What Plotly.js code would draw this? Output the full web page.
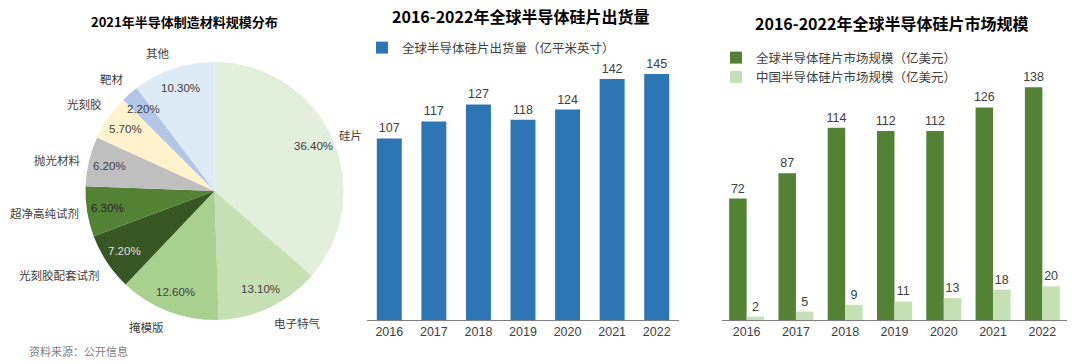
<!DOCTYPE html>
<html>
<head>
<meta charset="utf-8">
<script src="https://cdn.plot.ly/plotly-3.0.1.min.js"></script>
<style>html,body{margin:0;padding:0;background:#fff;}#chart{width:1080px;height:364px;}</style>
</head>
<body>
<div id="chart"></div>
<script>
// ---- data ----
const pieLabels = ['硅片','电子特气','掩模版','光刻胶配套试剂','超净高纯试剂','抛光材料','光刻胶','靶材','其他'];
const pieValues = [36.4, 13.1, 12.6, 7.2, 6.3, 6.2, 5.7, 2.2, 10.3];
const years = ['2016','2017','2018','2019','2020','2021','2022'];
const shipments = [107, 117, 127, 118, 124, 142, 145];
const globalMarket = [72, 87, 114, 112, 112, 126, 138];
const chinaMarket = [2, 5, 9, 11, 13, 18, 20];
const shipName = '全球半导体硅片出货量（亿平米英寸）';
const globalName = '全球半导体硅片市场规模（亿美元）';
const chinaName = '中国半导体硅片市场规模（亿美元）';
const pieTitle = '2021年半导体制造材料规模分布';
const midTitle = '2016-2022年全球半导体硅片出货量';
const rightTitle = '2016-2022年全球半导体硅片市场规模';
const sourceNote = '资料来源：公开信息';

// ---- styles ----
const W = 1080, H = 364;
const pieColors = ['#e2efda','#c6e0b4','#a9d08e','#375623','#548235','#bfbfbf','#fff2cc','#b4c6e7','#ddebf7'];
const pctColors = ['#404040','#404040','#404040','#e0e0e0','#262626','#404040','#404040','#404040','#404040'];
const NUM_FONT = 'Liberation Sans, Arial, Noto Sans CJK SC, sans-serif';
const CJK_FONT = 'Noto Sans CJK SC, sans-serif';
const pieCx = 214.5, pieCy = 191, pieR = 129;

const px = x => x / W;
const py = y => 1 - y / H;

const traces = [];
traces.push({
  type: 'pie', labels: pieLabels, values: pieValues, sort: false,
  direction: 'clockwise', rotation: 0, textinfo: 'none', hoverinfo: 'skip',
  showlegend: false,
  marker: {colors: pieColors, line: {width: 0}},
  domain: {x: [px(pieCx - pieR), px(pieCx + pieR)], y: [py(pieCy + pieR), py(pieCy - pieR)]}
});
traces.push({
  type: 'bar', x: years, y: shipments, name: shipName, xaxis: 'x', yaxis: 'y',
  marker: {color: '#2e75b6'}, width: 0.56, offset: -0.28,
  text: shipments.map(String), textposition: 'outside', constraintext: 'none',
  textfont: {family: NUM_FONT, size: 12.5, color: '#404040'},
  cliponaxis: false, hoverinfo: 'skip', legend: 'legend'
});
traces.push({
  type: 'bar', x: years, y: globalMarket, name: globalName, xaxis: 'x2', yaxis: 'y2',
  marker: {color: '#548235'},
  text: globalMarket.map(String), textposition: 'outside', constraintext: 'none',
  textfont: {family: NUM_FONT, size: 12.5, color: '#404040'},
  cliponaxis: false, hoverinfo: 'skip', legend: 'legend2'
});
traces.push({
  type: 'bar', x: years, y: chinaMarket, name: chinaName, xaxis: 'x2', yaxis: 'y2',
  marker: {color: '#c5e0b4'},
  text: chinaMarket.map(String), textposition: 'outside', constraintext: 'none',
  textfont: {family: NUM_FONT, size: 12.5, color: '#404040'},
  cliponaxis: false, hoverinfo: 'skip', legend: 'legend2'
});

// pie annotations computed from data
const annotations = [];
const total = pieValues.reduce((a, b) => a + b, 0);
let cum = 0;
pieValues.forEach((v, i) => {
  const mid = (cum + v / 2) / total * 2 * Math.PI;
  cum += v;
  const s = Math.sin(mid), c = Math.cos(mid);
  // percentage inside
  const rIn = pieR * 0.84;
  annotations.push({
    xref: 'paper', yref: 'paper', x: px(pieCx + s * rIn), y: py(pieCy - c * rIn),
    text: v.toFixed(2) + '%', showarrow: false, xanchor: 'center', yanchor: 'middle',
    font: {family: NUM_FONT, size: 11.5, color: pctColors[i]}
  });
  // name outside
  const rOut = pieR + 6;
  annotations.push({
    xref: 'paper', yref: 'paper', x: px(pieCx + s * rOut), y: py(pieCy - c * rOut),
    text: pieLabels[i], showarrow: false,
    xanchor: s > 0 ? 'left' : 'right',
    yanchor: c > 0.5 ? 'bottom' : (c < -0.5 ? 'top' : 'middle'),
    font: {family: CJK_FONT, size: 11.5, color: '#404040'}
  });
});
// titles and note
annotations.push({xref:'paper', yref:'paper', x: px(184), y: py(21), text: '<b>' + pieTitle + '</b>', showarrow:false,
  xanchor:'center', yanchor:'middle', font:{family: CJK_FONT, size: 13, color:'#000'}});
annotations.push({xref:'paper', yref:'paper', x: px(520), y: py(16), text: '<b>' + midTitle + '</b>', showarrow:false,
  xanchor:'center', yanchor:'middle', font:{family: CJK_FONT, size: 16, color:'#000'}});
annotations.push({xref:'paper', yref:'paper', x: px(891), y: py(23), text: '<b>' + rightTitle + '</b>', showarrow:false,
  xanchor:'center', yanchor:'middle', font:{family: CJK_FONT, size: 16, color:'#000'}});
annotations.push({xref:'paper', yref:'paper', x: px(27), y: py(351), text: sourceNote, showarrow:false,
  xanchor:'left', yanchor:'middle', font:{family: CJK_FONT, size: 11, color:'#808080'}});

const xStyle = {
  type: 'category', showline: true, linecolor: '#7f7f7f', linewidth: 1,
  ticks: '', showgrid: false, zeroline: false, fixedrange: true,
  tickfont: {family: NUM_FONT, size: 12.5, color: '#404040'}
};
const yStyle = {showticklabels: false, showgrid: false, zeroline: false, showline: false, ticks: '', fixedrange: true};

const layout = {
  width: W, height: H,
  margin: {l: 0, r: 0, t: 0, b: 0},
  paper_bgcolor: '#fff', plot_bgcolor: 'rgba(0,0,0,0)',
  barmode: 'group', bargap: 0.29, bargroupgap: 0,
  showlegend: true,
  xaxis: Object.assign({}, xStyle, {domain: [px(367), px(679)], anchor: 'y'}),
  yaxis: Object.assign({}, yStyle, {domain: [py(320), py(40)], range: [0, 165], anchor: 'x'}),
  xaxis2: Object.assign({}, xStyle, {domain: [px(722), px(1067)], anchor: 'y2'}),
  yaxis2: Object.assign({}, yStyle, {domain: [py(320), py(40)], range: [0, 166], anchor: 'x2'}),
  legend: {x: px(362), y: py(33), xanchor: 'left', yanchor: 'top', bgcolor: 'rgba(0,0,0,0)',
    font: {family: CJK_FONT, size: 12.5, color: '#404040'}, itemclick: false, itemdoubleclick: false},
  legend2: {x: px(716), y: py(43), xanchor: 'left', yanchor: 'top', bgcolor: 'rgba(0,0,0,0)', traceorder: 'normal',
    font: {family: CJK_FONT, size: 12.5, color: '#404040'}, itemclick: false, itemdoubleclick: false},
  annotations: annotations
};

Plotly.newPlot('chart', traces, layout, {displayModeBar: false, staticPlot: true});
</script>
</body>
</html>
